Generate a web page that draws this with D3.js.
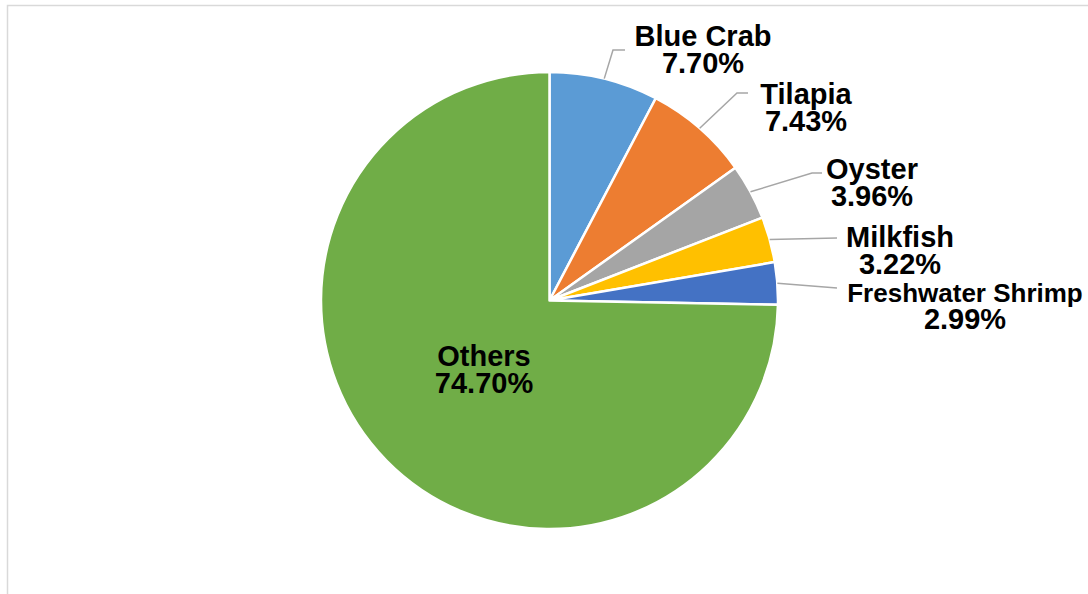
<!DOCTYPE html>
<html>
<head>
<meta charset="utf-8">
<script src="https://cdn.jsdelivr.net/npm/d3@7"></script>
<style>
  html, body { margin: 0; padding: 0; background: #fff; }
  svg { display: block; }
  text { font-family: "Liberation Sans", Arial, sans-serif; font-weight: bold; fill: #000; }
</style>
</head>
<body>
<svg id="chart" width="1088" height="594"></svg>
<script>
// ---- data ----
const categories = ["Blue Crab", "Tilapia", "Oyster", "Milkfish", "Freshwater Shrimp", "Others"];
const shares = [7.70, 7.43, 3.96, 3.22, 2.99, 74.70];
const percentLabels = ["7.70%", "7.43%", "3.96%", "3.22%", "2.99%", "74.70%"];
const colors = ["#5B9BD5", "#ED7D31", "#A5A5A5", "#FFC000", "#4472C4", "#70AD47"];

// ---- layout (label placement, leader elbows) ----
const cx = 549.5, cy = 300.5, R = 228.5;
const labelLayout = [
  { x: 703, y: 46,  elbow: [613, 50],  end: [625, 50] },
  { x: 806, y: 104, elbow: [737, 93],  end: [748, 93] },
  { x: 872, y: 179, elbow: [812, 173], end: [822, 173] },
  { x: 900, y: 247, elbow: null,       end: [837, 238] },
  { x: 965, y: 302, elbow: null,       end: [837, 288], nameSize: 26 },
  { x: 484, y: 366, elbow: null,       end: null }
];
const fontSize = 29, lineGap = 27;

const svg = d3.select("#chart");

// frame
svg.append("rect")
  .attr("x", 7.5).attr("y", 5.5)
  .attr("width", 1200).attr("height", 700)
  .attr("fill", "none").attr("stroke", "#D9D9D9").attr("stroke-width", 1.5);

const pie = d3.pie().sort(null).value(d => d)(shares);
const arc = d3.arc().innerRadius(0).outerRadius(R);
const color = d3.scaleOrdinal().domain(categories).range(colors);

const g = svg.append("g").attr("transform", `translate(${cx},${cy})`);
g.selectAll("path.slice")
  .data(pie)
  .join("path")
  .attr("class", "slice")
  .attr("d", arc)
  .attr("fill", (d, i) => color(categories[i]))
  .attr("stroke", "#fff")
  .attr("stroke-width", 2.5)
  .attr("stroke-linejoin", "round");

// leader lines
pie.forEach((d, i) => {
  const L = labelLayout[i];
  if (!L.end) return;
  const a = (d.startAngle + d.endAngle) / 2;
  const start = [cx + R * Math.sin(a), cy - R * Math.cos(a)];
  const pts = [start];
  if (L.elbow) pts.push(L.elbow);
  pts.push(L.end);
  svg.append("path")
    .attr("d", d3.line()(pts))
    .attr("fill", "none")
    .attr("stroke", "#A6A6A6")
    .attr("stroke-width", 1.5);
});

// labels
categories.forEach((c, i) => {
  const L = labelLayout[i];
  svg.append("text")
    .attr("text-anchor", "middle")
    .attr("font-size", L.nameSize || fontSize)
    .attr("x", L.x).attr("y", L.y)
    .text(c);
  svg.append("text")
    .attr("text-anchor", "middle")
    .attr("font-size", fontSize)
    .attr("x", L.x).attr("y", L.y + lineGap)
    .text(percentLabels[i]);
});
</script>
</body>
</html>
